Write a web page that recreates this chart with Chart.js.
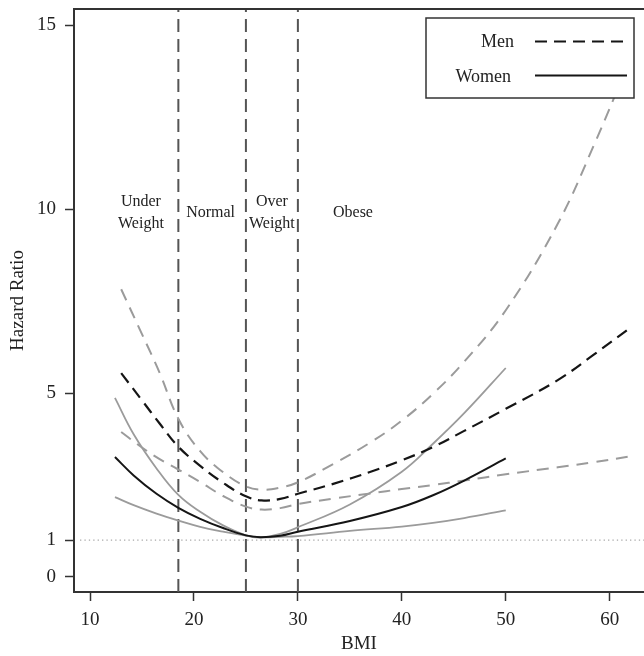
<!DOCTYPE html>
<html>
<head>
<meta charset="utf-8">
<script src="https://cdn.jsdelivr.net/npm/chart.js@4"></script>
<style>
  html,body{margin:0;padding:0;background:#fff;}
  #wrap{width:644px;height:656px;}
</style>
</head>
<body>
<div id="wrap"><canvas id="grafica" width="644" height="656"></canvas></div>
<script>
// ---- data ----
const xTicks = [10, 20, 30, 40, 50, 60];
const yTicks = [0, 1, 5, 10, 15];
const bmiCuts = [18.5, 25, 30];
const regionNames = [['Under', 'Weight'], ['Normal'], ['Over', 'Weight'], ['Obese']];

const menBMI   = [13, 15, 16.7, 18.5, 20.6, 22.8, 25, 26.5, 28.3, 30, 33.4, 37, 40, 43, 46, 50, 55, 58.5, 62];
const menHR    = [5.54, 4.80, 4.17, 3.54, 3.02, 2.56, 2.19, 2.08, 2.12, 2.26, 2.53, 2.86, 3.17, 3.53, 3.97, 4.57, 5.35, 6.05, 6.78];
const menUpper = [7.82, 6.60, 5.55, 4.30, 3.42, 2.85, 2.46, 2.37, 2.43, 2.57, 3.07, 3.66, 4.25, 4.98, 5.85, 7.25, 9.60, 11.75, 14.1];
const menLower = [3.94, 3.52, 3.20, 2.92, 2.58, 2.20, 1.91, 1.83, 1.87, 1.98, 2.13, 2.27, 2.39, 2.50, 2.62, 2.79, 2.98, 3.12, 3.28];

const womenBMI   = [12.4, 14.2, 16.4, 18.5, 20.6, 22.8, 25, 26.4, 28.3, 30, 35, 40, 43, 46, 50];
const womenHR    = [3.26, 2.76, 2.26, 1.88, 1.58, 1.33, 1.13, 1.08, 1.12, 1.23, 1.52, 1.90, 2.22, 2.62, 3.22];
const womenUpper = [4.87, 3.88, 2.95, 2.23, 1.77, 1.40, 1.13, 1.07, 1.17, 1.35, 1.97, 2.86, 3.62, 4.45, 5.68];
const womenLower = [2.17, 1.95, 1.72, 1.53, 1.36, 1.23, 1.12, 1.08, 1.09, 1.11, 1.25, 1.37, 1.47, 1.60, 1.81];

const refLineX = [9.04, 63.4];
const refLineY = [1, 1];

// ---- helpers ----
function puntos(xs, ys){
  return xs.map((x, i) => ({x: x, y: ys[i]}));
}
const FONT = '"Liberation Serif", "Times New Roman", serif';
const GRIS = '#9b9b9b';
const NEGRO = '#151515';

function curva(xs, ys, color, dash, width){
  return {
    data: puntos(xs, ys),
    borderColor: color,
    borderWidth: width,
    borderDash: dash,
    pointRadius: 0,
    fill: false,
    tension: 0.4
  };
}

const datasets = [
  curva(menBMI, menHR, NEGRO, [12, 7], 2.2),
  curva(womenBMI, womenHR, NEGRO, [], 2),
  curva(menBMI, menUpper, GRIS, [12, 8], 2),
  curva(menBMI, menLower, GRIS, [12, 8], 2),
  curva(womenBMI, womenUpper, GRIS, [], 1.8),
  curva(womenBMI, womenLower, GRIS, [], 1.8),
  {data: puntos(refLineX, refLineY), borderColor: '#a8a8a8', borderWidth: 1.3, borderDash: [1.3, 3.1], pointRadius: 0, fill: false}
];
bmiCuts.forEach(c => {
  datasets.push({data: [{x: c, y: -0.41}, {x: c, y: 15.44}], borderColor: '#555', borderWidth: 2, borderDash: [13, 7], pointRadius: 0, fill: false});
});

// ---- extras: top border, region labels, legend ----
const extras = {
  id: 'extras',
  afterDatasetsDraw(chart){
    const ctx = chart.ctx, a = chart.chartArea;
    const xs = chart.scales.x, ys = chart.scales.y;
    ctx.save();
    // top frame line
    ctx.strokeStyle = '#333'; ctx.lineWidth = 2; ctx.setLineDash([]);
    ctx.beginPath(); ctx.moveTo(a.left - 1, a.top); ctx.lineTo(a.right, a.top); ctx.stroke();

    // region labels
    const pos = [14.9, 21.6, 27.5, 35.3];
    ctx.fillStyle = '#222';
    ctx.font = '16px ' + FONT;
    ctx.textAlign = 'center'; ctx.textBaseline = 'middle';
    regionNames.forEach((lines, i) => {
      const px = xs.getPixelForValue(pos[i]);
      const cy = ys.getPixelForValue(9.9);
      lines.forEach((t, j) => {
        const off = (j - (lines.length - 1) / 2) * 22;
        ctx.fillText(t, px, cy + off);
      });
    });

    // legend box
    ctx.fillStyle = '#fff';
    ctx.fillRect(426, 18, 208, 80);
    ctx.strokeStyle = '#333'; ctx.lineWidth = 1.5;
    ctx.strokeRect(426, 18, 208, 80);
    ctx.fillStyle = '#222';
    ctx.font = '18px ' + FONT;
    ctx.textAlign = 'right'; ctx.textBaseline = 'alphabetic';
    ctx.fillText('Men', 514, 47);
    ctx.fillText('Women', 511, 82);
    ctx.strokeStyle = NEGRO; ctx.lineWidth = 2.2;
    ctx.setLineDash([12, 7]);
    ctx.beginPath(); ctx.moveTo(535, 41.5); ctx.lineTo(627, 41.5); ctx.stroke();
    ctx.setLineDash([]); ctx.lineWidth = 2;
    ctx.beginPath(); ctx.moveTo(535, 75.5); ctx.lineTo(627, 75.5); ctx.stroke();
    ctx.restore();
  }
};

new Chart(document.getElementById('grafica'), {
  type: 'line',
  data: {datasets},
  options: {
    responsive: false,
    animation: false,
    layout: {padding: {top: 9, right: 0, left: 0, bottom: 0}},
    plugins: {legend: {display: false}, tooltip: {enabled: false}},
    scales: {
      x: {
        type: 'linear', min: 8.46, max: 63.3,
        afterBuildTicks: s => { s.ticks = xTicks.map(v => ({value: v})); },
        afterFit: s => { s.height = 64; s.paddingLeft = 0; s.paddingRight = 0; },
        grid: {drawOnChartArea: false, tickLength: 9, tickColor: '#333', tickWidth: 1.5},
        border: {display: true, color: '#333', width: 2},
        ticks: {color: '#222', font: {family: FONT, size: 19}, padding: 8, maxRotation: 0},
        title: {display: true, text: 'BMI', color: '#222', font: {family: FONT, size: 19}, padding: {top: 0, bottom: 1}}
      },
      y: {
        type: 'linear', min: -0.41, max: 15.44,
        afterBuildTicks: s => { s.ticks = yTicks.map(v => ({value: v})); },
        afterFit: s => { s.width = 74; s.paddingTop = 0; s.paddingBottom = 0; },
        grid: {drawOnChartArea: false, tickLength: 9, tickColor: '#333', tickWidth: 1.5},
        border: {display: true, color: '#333', width: 2},
        ticks: {color: '#222', font: {family: FONT, size: 19}, padding: 9},
        title: {display: true, text: 'Hazard Ratio', color: '#222', font: {family: FONT, size: 19}, padding: {top: 7, bottom: 0}}
      }
    }
  },
  plugins: [extras]
});
</script>
</body>
</html>
